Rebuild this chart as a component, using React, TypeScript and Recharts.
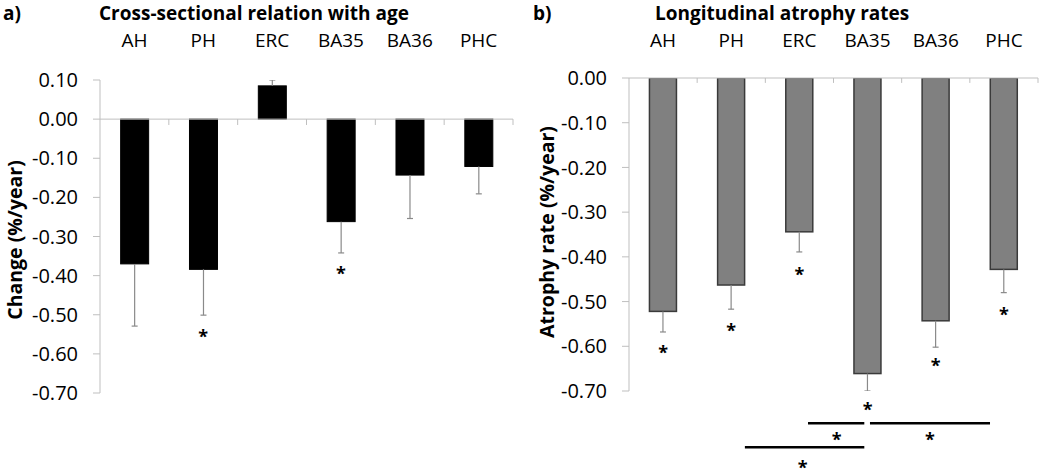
import React from 'react';
import { ComposedChart, Bar, XAxis, YAxis, ReferenceLine, ReferenceDot } from 'recharts';

const FONT = '"Open Sans", sans-serif';

// ---- data ----
const categories = ['AH', 'PH', 'ERC', 'BA35', 'BA36', 'PHC'];

const crossValues = [-0.37, -0.384, 0.085, -0.262, -0.143, -0.121];
const crossErrors = [0.159, 0.117, 0.015, 0.08, 0.111, 0.07];
const crossStars: (number | null)[] = [null, -0.546, null, -0.385, null, null];
const crossTicks = [0.1, 0, -0.1, -0.2, -0.3, -0.4, -0.5, -0.6, -0.7];

const longValues = [-0.522, -0.463, -0.344, -0.661, -0.543, -0.428];
const longErrors = [0.046, 0.054, 0.045, 0.039, 0.059, 0.052];
const longStars: (number | null)[] = [-0.607, -0.557, -0.431, -0.734, -0.636, -0.522];
const longTicks = [0, -0.1, -0.2, -0.3, -0.4, -0.5, -0.6, -0.7];

// significance brackets (x in category-index units 0..6, y in %/year)
const sigLineFrom = [2.626, 3.535, 1.7];
const sigLineTo = [3.452, 5.296, 3.452];
const sigLineY = [-0.772, -0.772, -0.826];
const sigStarX = [3.047, 4.415, 2.548];
const sigStarY = [-0.8, -0.8, -0.863];

const categoryBoundaries = [1, 2, 3, 4, 5, 6];

const crossData = categories.map((name, i) => ({ name, pos: i + 0.5, value: crossValues[i], err: crossErrors[i] }));
const longData = categories.map((name, i) => ({ name, pos: i + 0.5, value: longValues[i], err: longErrors[i] }));

const AXIS_GRAY = '#bfbfbf';
const ERR_GRAY = '#8a8a8a';

const makeBarShape = (fill: string, stroke: string, strokeWidth: number) => (props: any) => {
  const { x, y, width, height, payload } = props;
  const top = Math.min(y, y + height);
  const h = Math.abs(height);
  const v = payload.value;
  const e = payload.err;
  const pxPerUnit = v !== 0 ? h / Math.abs(v) : 0;
  const cx = x + width / 2;
  const y0 = v < 0 ? top + h : top;
  const y1 = v < 0 ? y0 + e * pxPerUnit : y0 - e * pxPerUnit;
  return (
    <g>
      <rect x={x} y={top} width={width} height={h} fill={fill} stroke={stroke} strokeWidth={strokeWidth} />
      <line x1={cx} x2={cx} y1={y0} y2={y1} stroke={ERR_GRAY} strokeWidth={1.2} />
      <line x1={cx - 3} x2={cx + 3} y1={y1} y2={y1} stroke={ERR_GRAY} strokeWidth={1.2} />
    </g>
  );
};

const starShape = (p: any) => (
  <text x={p.cx} y={p.cy + 10} textAnchor="middle" fontSize={18} fontWeight="bold" fontFamily={FONT} fill="#000">
    *
  </text>
);

const fmt = (v: number) => v.toFixed(2);

const tickStyle = { fill: '#000', fontSize: 20, fontFamily: FONT };
const catStyle = { fill: '#000', fontSize: 19, fontFamily: FONT };

function CrossChart() {
  return (
    <ComposedChart
      width={520}
      height={471}
      data={crossData}
      margin={{ top: 0, right: 7, bottom: 78, left: 0 }}
      barCategoryGap="30%"
    >
      <XAxis
        xAxisId="cat"
        dataKey="name"
        type="category"
        orientation="top"
        height={80}
        axisLine={false}
        tickLine={false}
        tickSize={0}
        tickMargin={33}
        tick={catStyle}
        interval={0}
      />
      <XAxis xAxisId="num" dataKey="pos" type="number" domain={[0, 6]} hide allowDataOverflow />
      <YAxis
        domain={[-0.7, 0.1]}
        ticks={crossTicks}
        interval={0}
        allowDataOverflow
        tickFormatter={fmt}
        width={100}
        axisLine={{ stroke: AXIS_GRAY }}
        tickLine={{ stroke: AXIS_GRAY }}
        tickSize={7}
        tickMargin={15}
        tick={tickStyle}
      />
      <ReferenceLine xAxisId="num" y={0} stroke={AXIS_GRAY} strokeWidth={1} />
      {categoryBoundaries.map((b) => (
        <ReferenceLine
          key={'t' + b}
          xAxisId="num"
          segment={[{ x: b, y: 0 }, { x: b, y: -0.015 }]}
          stroke={AXIS_GRAY}
          ifOverflow="visible"
        />
      ))}
      <Bar xAxisId="cat" dataKey="value" isAnimationActive={false} shape={makeBarShape('#000', '#000', 1)} />
      {crossStars.map((s, i) =>
        s === null ? null : (
          <ReferenceDot key={'s' + i} xAxisId="cat" x={categories[i]} y={s} r={0} ifOverflow="visible" shape={starShape} />
        )
      )}
    </ComposedChart>
  );
}

function LongChart() {
  return (
    <ComposedChart
      width={530}
      height={471}
      data={longData}
      margin={{ top: 0, right: 12, bottom: 80, left: 0 }}
      barCategoryGap="30%"
    >
      <XAxis
        xAxisId="cat"
        dataKey="name"
        type="category"
        orientation="top"
        height={78}
        axisLine={false}
        tickLine={false}
        tickSize={0}
        tickMargin={31}
        tick={catStyle}
        interval={0}
      />
      <XAxis xAxisId="num" dataKey="pos" type="number" domain={[0, 6]} hide allowDataOverflow />
      <YAxis
        domain={[-0.7, 0]}
        ticks={longTicks}
        interval={0}
        allowDataOverflow
        tickFormatter={fmt}
        width={109}
        axisLine={{ stroke: AXIS_GRAY }}
        tickLine={{ stroke: AXIS_GRAY }}
        tickSize={7}
        tickMargin={15}
        tick={tickStyle}
      />
      <ReferenceLine xAxisId="num" y={0} stroke={AXIS_GRAY} strokeWidth={1} />
      {categoryBoundaries.map((b) => (
        <ReferenceLine
          key={'t' + b}
          xAxisId="num"
          segment={[{ x: b, y: 0 }, { x: b, y: -0.011 }]}
          stroke={AXIS_GRAY}
          ifOverflow="visible"
        />
      ))}
      <Bar xAxisId="cat" dataKey="value" isAnimationActive={false} shape={makeBarShape('#808080', '#3a3a3a', 1.5)} />
      {longStars.map((s, i) =>
        s === null ? null : (
          <ReferenceDot key={'s' + i} xAxisId="cat" x={categories[i]} y={s} r={0} ifOverflow="visible" shape={starShape} />
        )
      )}
      {sigLineFrom.map((f, i) => (
        <ReferenceLine
          key={'l' + i}
          xAxisId="num"
          segment={[{ x: f, y: sigLineY[i] }, { x: sigLineTo[i], y: sigLineY[i] }]}
          stroke="#000"
          strokeWidth={2.5}
          ifOverflow="visible"
        />
      ))}
      {sigStarX.map((x, i) => (
        <ReferenceDot key={'g' + i} xAxisId="num" x={x} y={sigStarY[i]} r={0} ifOverflow="visible" shape={starShape} />
      ))}
    </ComposedChart>
  );
}

export default function App() {
  return (
    <div style={{ position: 'absolute', left: 0, top: 0, width: 1050, height: 471, background: '#fff', fontFamily: FONT }}>
      <div style={{ position: 'absolute', left: 0, top: 0 }}>
        <CrossChart />
      </div>
      <div style={{ position: 'absolute', left: 520, top: 0 }}>
        <LongChart />
      </div>
      <svg width={1050} height={471} style={{ position: 'absolute', left: 0, top: 0, pointerEvents: 'none' }}>
        <g fontFamily={FONT} fontWeight="bold" fill="#000">
          <text x={3} y={20} fontSize={19}>a)</text>
          <text x={99} y={20} fontSize={19}>Cross-sectional relation with age</text>
          <text x={533} y={20} fontSize={19}>b)</text>
          <text x={655} y={20} fontSize={19}>Longitudinal atrophy rates</text>
          <text x={14} y={240} fontSize={19.5} textAnchor="middle" dominantBaseline="central" transform="rotate(-90 14 240)">
            Change (%/year)
          </text>
          <text x={546} y={232} fontSize={19.5} textAnchor="middle" dominantBaseline="central" transform="rotate(-90 546 232)">
            Atrophy rate (%/year)
          </text>
        </g>
      </svg>
    </div>
  );
}
